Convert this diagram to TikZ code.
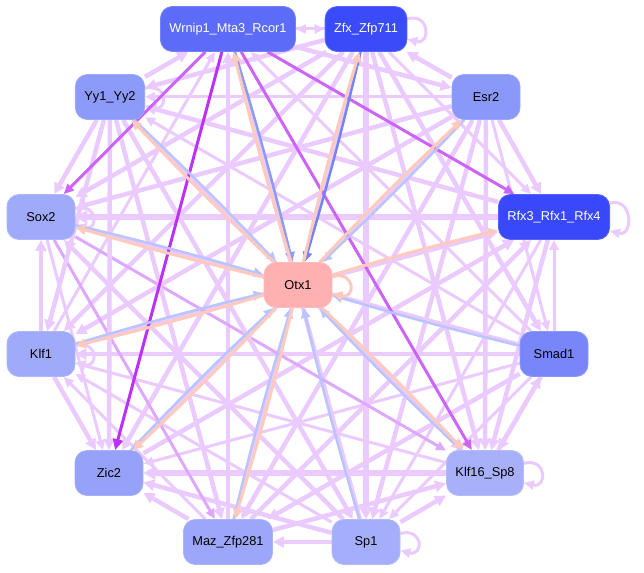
\documentclass[tikz,border=0pt]{standalone}
\usepackage{fontspec}
\setmainfont{Liberation Sans}
\usetikzlibrary{arrows.meta}
\pgfdeclarelayer{edgelayer}
\pgfsetlayers{edgelayer,main}
\definecolor{lp}{RGB}{234,202,255}
\definecolor{mp}{RGB}{222,168,255}
\definecolor{pp}{RGB}{204,100,248}
\definecolor{dp}{RGB}{188,48,250}
\definecolor{pe}{RGB}{255,202,190}
\definecolor{bl}{RGB}{186,196,255}
\definecolor{bm}{RGB}{140,155,248}
\definecolor{bd}{RGB}{115,132,248}
\definecolor{nW}{RGB}{92,108,248}
\definecolor{nZ}{RGB}{58,76,250}
\definecolor{nR}{RGB}{56,72,250}
\definecolor{nY}{RGB}{140,154,250}
\definecolor{nE}{RGB}{138,152,250}
\definecolor{nX}{RGB}{160,170,250}
\definecolor{nS}{RGB}{120,134,250}
\definecolor{nC}{RGB}{150,162,250}
\definecolor{nM}{RGB}{156,166,250}
\definecolor{nP}{RGB}{165,174,250}
\definecolor{nK}{RGB}{168,176,250}
\definecolor{nO}{RGB}{255,176,176}
\tikzset{
  box/.style={rounded corners=12pt, minimum height=45pt, minimum width=68pt,
    inner xsep=9pt, font=\fontsize{12.8}{14}\selectfont, line width=0.8pt},
  ea/.style={lp, line width=3pt, -{Triangle[length=10pt,width=9pt]}},
  eb/.style={lp, line width=4.5pt, -{Triangle[length=11pt,width=11pt]}},
  ec/.style={lp, line width=6pt, -{Triangle[length=12pt,width=13pt]}},
  em/.style={mp, line width=3pt, -{Triangle[length=10pt,width=9pt]}},
  ep/.style={pp, line width=3pt, -{Triangle[length=10pt,width=9pt]}},
  ed/.style={dp, line width=3pt, -{Triangle[length=11pt,width=10pt]}},
  epe/.style={pe, line width=3pt, -{Triangle[length=10pt,width=9pt]}, bend left=1.5},
  ebl/.style={#1, line width=2.5pt, -{Triangle[length=10pt,width=9pt]}, bend left=1.5},
  sl/.style={loop right, out=14, in=-14, min distance=24pt},
}
\begin{document}
\begin{tikzpicture}[x=1pt,y=-1pt]
\useasboundingbox (0,0) rectangle (644,572);
\node[box, fill=nW, draw=nW!85!white, text=white] (w) at (228,29) {Wrnip1\_Mta3\_Rcor1};
\node[box, fill=nZ, draw=nZ!85!white, text=white] (z) at (366,29) {Zfx\_Zfp711};
\node[box, fill=nE, draw=nE!85!white] (e) at (486,97) {Esr2};
\node[box, fill=nR, draw=nR!85!white, text=white] (r) at (554,217) {Rfx3\_Rfx1\_Rfx4};
\node[box, fill=nS, draw=nS!85!white] (s) at (554,354) {Smad1};
\node[box, fill=nK, draw=nK!85!white] (k) at (485,473) {Klf16\_Sp8};
\node[box, fill=nP, draw=nP!85!white] (p) at (366,542) {Sp1};
\node[box, fill=nM, draw=nM!85!white] (m) at (228,542) {Maz\_Zfp281};
\node[box, fill=nC, draw=nC!85!white] (c) at (109,473) {Zic2};
\node[box, fill=nX, draw=nX!85!white] (l) at (41,354) {Klf1};
\node[box, fill=nX, draw=nX!85!white] (x) at (41,217) {Sox2};
\node[box, fill=nY, draw=nY!85!white] (y) at (110,97) {Yy1\_Yy2};
\node[box, fill=nO, draw=nO!85!white] (o) at (298,285) {Otx1};
\begin{pgfonlayer}{edgelayer}
\draw[ea] (w) -- (z);
\draw[ea] (z) -- (w);
\draw[eb] (w) -- (e);
\draw[ea] (s) -- (w);
\draw[eb] (p) -- (w);
\draw[eb] (m) -- (w);
\draw[ea] (l) -- (w);
\draw[eb] (y) -- (w);
\draw[eb] (e) -- (z);
\draw[ea] (z) -- (r);
\draw[eb] (z) -- (s);
\draw[eb] (z) -- (k);
\draw[ec] (z) -- (p);
\draw[ea] (m) -- (z);
\draw[eb] (z) -- (c);
\draw[eb] (z) -- (l);
\draw[eb] (z) -- (x);
\draw[eb] (z) -- (y);
\draw[eb] (e) -- (r);
\draw[ea] (e) -- (s);
\draw[eb] (e) -- (k);
\draw[eb] (e) -- (p);
\draw[eb] (e) -- (m);
\draw[ea] (e) -- (c);
\draw[eb] (e) -- (l);
\draw[eb] (e) -- (x);
\draw[ea] (e) -- (y);
\draw[ea] (s) -- (r);
\draw[eb] (r) -- (k);
\draw[ea] (r) -- (p);
\draw[eb] (m) -- (r);
\draw[eb] (c) -- (r);
\draw[eb] (l) -- (r);
\draw[ec] (r) -- (x);
\draw[eb] (r) -- (y);
\draw[eb] (s) -- (k);
\draw[eb] (k) -- (s);
\draw[ea] (s) -- (p);
\draw[eb] (s) -- (m);
\draw[ea] (s) -- (c);
\draw[eb] (s) -- (l);
\draw[eb] (s) -- (x);
\draw[ea] (s) -- (y);
\draw[eb] (p) -- (k);
\draw[eb] (m) -- (k);
\draw[ec] (k) -- (c);
\draw[ea] (k) -- (l);
\draw[em] (x) -- (k);
\draw[eb] (y) -- (k);
\draw[eb] (p) -- (m);
\draw[eb] (p) -- (c);
\draw[ea] (p) -- (l);
\draw[eb] (p) -- (x);
\draw[eb] (y) -- (p);
\draw[eb] (m) -- (c);
\draw[ea] (m) -- (l);
\draw[em] (x) -- (m);
\draw[eb] (y) -- (m);
\draw[eb] (l) -- (c);
\draw[ea] (x) -- (c);
\draw[eb] (y) -- (c);
\draw[eb] (l) -- (x);
\draw[eb] (y) -- (l);
\draw[eb] (y) -- (x);
% self loops
\path (z) edge[ea, sl] (z);
\path (r) edge[ea, sl] (r);
\path (x) edge[ea, sl] (x);
\path (l) edge[ea, sl] (l);
\path (y) edge[ea, sl] (y);
\path (k) edge[ea, sl] (k);
\path (p) edge[ea, sl] (p);
% purple edges
\draw[ep] (w) -- (r);
\draw[ep] (w) -- (x);
\draw[ep] (w) -- (k);
\draw[ed] (w) -- (c);
% Otx1 edges
\path (w) edge[ebl=bm] (o);
\path (z) edge[ebl=bd] (o);
\path (e) edge[ebl=bl] (o);
\path (y) edge[ebl=bl] (o);
\path (x) edge[ebl=bl] (o);
\path (l) edge[ebl=bl] (o);
\path (c) edge[ebl=bl] (o);
\path (m) edge[ebl=bl] (o);
\path (p) edge[ebl=bl] (o);
\path (s) edge[ebl=bl] (o);
\path (k) edge[ebl=bl] (o);
\path (o) edge[epe] (w);
\path (o) edge[epe] (z);
\path (o) edge[epe] (e);
\path (o) edge[epe] (r);
\path (o) edge[epe] (k);
\path (o) edge[epe] (m);
\path (o) edge[epe] (c);
\path (o) edge[epe] (l);
\path (o) edge[epe] (x);
\path (o) edge[epe] (y);
\path (o) edge[pe, line width=3pt, -{Triangle[length=10pt,width=9pt]}, sl] (o);
\end{pgfonlayer}
\end{tikzpicture}
\end{document}
